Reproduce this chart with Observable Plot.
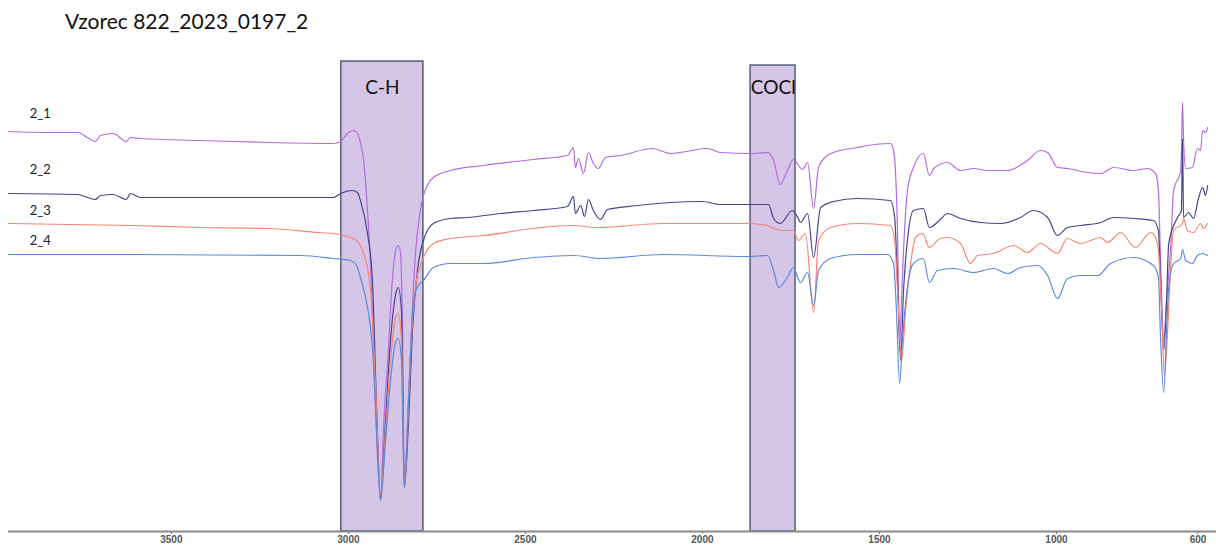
<!DOCTYPE html>
<html>
<head>
<meta charset="utf-8">
<script src="https://cdn.jsdelivr.net/npm/d3@7"></script>
<script src="https://cdn.jsdelivr.net/npm/@observablehq/plot@0.6"></script>
<style>
  html, body { margin: 0; padding: 0; background: #fff; }
  #wrap { position: relative; width: 1216px; height: 545px; }
  #title { position: absolute; left: 65px; top: 8px; font-family: Lato, "Open Sans", sans-serif; font-size: 21px; color: #111; white-space: nowrap; }
  svg { display: block; }
</style>
</head>
<body>
<div id="wrap">
  <div id="title">Vzorec 822_2023_0197_2</div>
  <div id="chart"></div>
</div>
<script>
// ---- data (wavenumber in cm-1, intensity in arbitrary units) ----
const seriesNames = ["2_1", "2_2", "2_3", "2_4"];
const seriesColors = ["#b36be0", "#44448c", "#f98572", "#5d8ad8"];
const labelWn = 3870;
const labelVal = [418, 362, 321, 291];

const bandNames = ["C-H", "COCl"];
const bandFrom = [3020, 1864];
const bandTo = [2788, 1737];
const bandTop = [470, 466];
const bandLabelWn = [2904, 1800];
const bandLabelVal = [444, 444];

const xTicks = [3500, 3000, 2500, 2000, 1500, 1000, 600];

const wn21 = [3960,3842,3765,3737,3715,3700,3664,3627,3616,3587,3418,3229,3042,3022,3003,2986,2974,2966,2957,2946,2938,2929,2921,2909,2901,2887,2876,2864,2859,2853,2847,2842,2833,2822,2811,2799,2788,2774,2760,2712,2618,2477,2381,2364,2359,2350,2336,2322,2308,2294,2274,2231,2141,2090,1986,1949,1864,1813,1799,1780,1760,1743,1717,1703,1686,1672,1647,1630,1562,1534,1469,1460,1449,1443,1438,1432,1421,1404,1376,1359,1347,1308,1271,1234,1195,1138,1082,1045,1025,997,969,912,875,839,782,743,720,712,706,697,689,678,669,649,647,644,641,635,616,602,593,587,579,573];
const t21 = [400,399,399,394,390,396,398,390,394,393,391,389,388,390,398,401,398,389,371,321,271,191,101,31,101,181,251,284,286,279,201,44,111,201,276,316,336,348,354,361,366,372,376,384,364,373,358,379,368,363,374,376,383,378,383,379,378,379,371,347,361,372,362,369,323,364,376,379,384,386,388,381,301,181,231,281,341,364,378,356,363,369,361,363,361,361,371,381,379,364,363,359,358,364,361,363,358,341,271,191,231,281,341,361,381,429,391,363,364,383,381,401,399,404];

const wn22 = [3960,3765,3737,3715,3700,3664,3627,3616,3587,3229,3042,3022,2989,2974,2966,2946,2932,2921,2909,2895,2881,2867,2859,2850,2842,2830,2819,2805,2788,2760,2712,2664,2570,2477,2381,2364,2359,2344,2333,2322,2308,2288,2268,2183,2090,2000,1949,1864,1813,1799,1780,1746,1731,1723,1703,1686,1666,1630,1562,1469,1457,1449,1440,1432,1421,1404,1376,1359,1328,1308,1271,1215,1158,1102,1065,1025,997,969,932,875,839,782,726,712,706,697,689,683,658,647,644,641,627,613,599,587,579,573];
const t22 = [338,337,334,332,336,337,332,338,334,334,334,338,341,339,331,298,251,131,34,111,191,236,244,221,44,111,201,261,291,308,313,314,318,321,325,335,318,326,315,332,321,312,322,326,329,330,327,327,327,313,308,321,314,309,318,274,324,330,333,331,314,251,171,241,291,321,323,304,312,318,313,309,308,314,321,314,296,304,306,309,314,313,311,301,251,181,231,288,314,321,393,314,319,313,333,344,336,346];

const wn23 = [3960,3607,3418,3229,3087,3022,2994,2977,2957,2938,2924,2909,2895,2881,2867,2859,2850,2842,2830,2819,2808,2796,2788,2760,2712,2618,2477,2367,2296,2110,1873,1816,1799,1771,1743,1729,1709,1686,1672,1638,1562,1469,1457,1449,1438,1426,1412,1398,1378,1359,1328,1308,1271,1243,1223,1178,1121,1082,1045,997,969,932,875,856,819,777,734,720,712,703,695,686,678,669,644,641,630,613,593,585,573];
const t23 = [308,306,304,303,299,297,294,291,278,244,151,36,101,171,213,218,191,46,131,211,251,266,274,288,293,296,303,306,304,308,308,306,303,301,301,291,298,219,291,304,308,306,291,241,171,221,268,294,298,284,293,294,288,268,276,278,286,279,288,278,293,288,294,289,299,284,299,294,281,221,156,201,261,301,308,313,301,299,308,303,308];

const wn24 = [3960,3607,3135,3042,2994,2977,2966,2946,2932,2918,2909,2895,2881,2867,2859,2850,2842,2830,2816,2802,2788,2760,2712,2618,2477,2364,2288,2110,1873,1816,1799,1785,1760,1743,1723,1703,1686,1672,1638,1562,1477,1460,1452,1443,1435,1421,1404,1376,1359,1336,1291,1234,1178,1138,1102,1053,1025,997,969,932,884,847,782,726,712,706,697,689,683,669,649,644,635,616,602,587,573];
const t24 = [277,277,276,273,271,266,254,224,184,84,31,91,151,189,193,171,43,131,231,246,251,264,268,268,274,276,273,277,275,276,261,244,254,264,249,259,226,261,273,277,277,268,221,148,191,244,268,273,249,261,263,259,263,258,264,266,256,233,253,256,256,268,274,266,254,194,139,201,244,268,273,282,271,268,276,278,276];

const seriesWn = [wn21, wn22, wn23, wn24];
const seriesVal = [t21, t22, t23, t24];

// ---- build tables ----
const bands = bandNames.map((n, i) => ({name: n, x1: bandFrom[i], x2: bandTo[i], top: bandTop[i], lx: bandLabelWn[i], ly: bandLabelVal[i]}));
const labels = seriesNames.map((n, i) => ({name: n, x: labelWn, y: labelVal[i]}));

const lineMarks = seriesNames.map((n, i) =>
  Plot.line(seriesWn[i].map((w, j) => ({wn: w, v: seriesVal[i][j]})), {
    x: "wn", y: "v", stroke: seriesColors[i], strokeWidth: 1.2, curve: "monotone-x"
  })
);

const chart = Plot.plot({
  width: 1216,
  height: 545,
  marginLeft: 8,
  marginRight: 0,
  marginTop: 31,
  marginBottom: 14,
  style: {fontFamily: "Lato, 'Open Sans', sans-serif", background: "white"},
  x: {domain: [3960, 548], axis: null},
  y: {domain: [0, 500], axis: null},
  marks: [
    Plot.rect(bands, {x1: "x1", x2: "x2", y1: 0, y2: "top", fill: "#d5c5e6", stroke: "#4b5573", strokeWidth: 1.4}),
    ...lineMarks,
    Plot.text(bands, {x: "lx", y: "ly", text: "name", fontSize: 19, fill: "#111", fontFamily: "Lato, 'Open Sans', sans-serif"}),
    Plot.text(labels, {x: "x", y: "y", text: "name", fontSize: 13, fill: "#222", fontFamily: "Lato, 'Open Sans', sans-serif"}),
    Plot.ruleY([0], {stroke: "#8a8a8a", strokeWidth: 2}),
    Plot.axisX({ticks: xTicks, tickFormat: d => String(d), tickSize: 3, tickPadding: 1, fontSize: 10, fontWeight: "bold", fill: "#555", stroke: "#777", fontFamily: "'Liberation Sans Narrow', 'Liberation Sans', sans-serif"})
  ]
});
document.getElementById("chart").appendChild(chart);
</script>
</body>
</html>
